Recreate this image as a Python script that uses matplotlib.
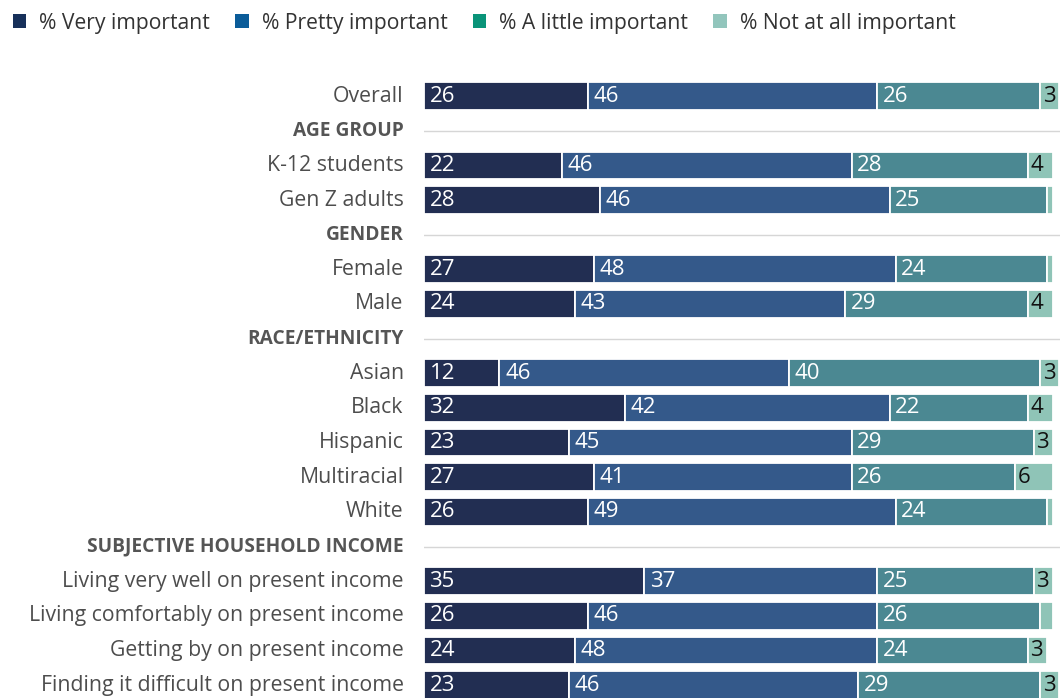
import matplotlib.pyplot as plt
from matplotlib.patches import Patch

plt.rcParams['font.family'] = ['Open Sans', 'DejaVu Sans']

# rows top to bottom; header rows have no values
labels = ['Overall', 'AGE GROUP', 'K-12 students', 'Gen Z adults', 'GENDER',
          'Female', 'Male', 'RACE/ETHNICITY', 'Asian', 'Black', 'Hispanic',
          'Multiracial', 'White', 'SUBJECTIVE HOUSEHOLD INCOME',
          'Living very well on present income',
          'Living comfortably on present income',
          'Getting by on present income',
          'Finding it difficult on present income']
headers = ['AGE GROUP', 'GENDER', 'RACE/ETHNICITY', 'SUBJECTIVE HOUSEHOLD INCOME']

very = [26, None, 22, 28, None, 27, 24, None, 12, 32, 23, 27, 26, None, 35, 26, 24, 23]
pretty = [46, None, 46, 46, None, 48, 43, None, 46, 42, 45, 41, 49, None, 37, 46, 48, 46]
little = [26, None, 28, 25, None, 24, 29, None, 40, 22, 29, 26, 24, None, 25, 26, 24, 29]
not_at_all = [3, None, 4, 1, None, 1, 4, None, 3, 4, 3, 6, 1, None, 3, 2, 3, 3]

series = ['% Very important', '% Pretty important', '% A little important', '% Not at all important']
bar_colors = ['#222e52', '#34598a', '#4b8892', '#8fc4b7']
legend_colors = ['#17305a', '#0b5c99', '#0a9479', '#92c5bc']
text_colors = ['white', 'white', 'white', '#111111']

fig = plt.figure(figsize=(10.6, 6.98), dpi=100)
ax = fig.add_axes([424 / 1060, 0.0, 1 - 424 / 1060, 0.8872])

for i, lab in enumerate(labels):
    if lab in headers:
        ax.axhline(i, color='#d6d6d6', lw=1.0, zorder=0)
        ax.text(-0.032, i, lab, transform=ax.get_yaxis_transform(), ha='right', va='center',
                fontsize=13.8, fontweight='bold', color='#555555')
        continue
    ax.text(-0.032, i, lab, transform=ax.get_yaxis_transform(), ha='right', va='center',
            fontsize=15.3, color='#4d4d4d')
    left = 0
    for k, vals in enumerate([very, pretty, little, not_at_all]):
        v = vals[i]
        ax.barh(i, v, left=left, height=0.8, color=bar_colors[k], edgecolor='white', linewidth=1.3)
        if v >= 3:
            pad = 1.5 if v < 10 else 4
            ax.annotate(str(v), (left, i), xytext=(pad, 0), textcoords='offset points',
                        ha='left', va='center', fontsize=16, color=text_colors[k])
        left += v

ax.set_xlim(0, 101.1)
ax.set_ylim(17.37, -0.5)
ax.axis('off')

handles = [Patch(facecolor=c, edgecolor='none') for c in legend_colors]
fig.legend(handles, series, loc='upper left', bbox_to_anchor=(0.0, 1.0), ncol=4,
           frameon=False, fontsize=15.2, handlelength=0.65, handleheight=0.65,
           handletextpad=0.6, columnspacing=1.2, labelcolor='#333333', borderaxespad=0.2)

fig.savefig('out.png', dpi=100)
